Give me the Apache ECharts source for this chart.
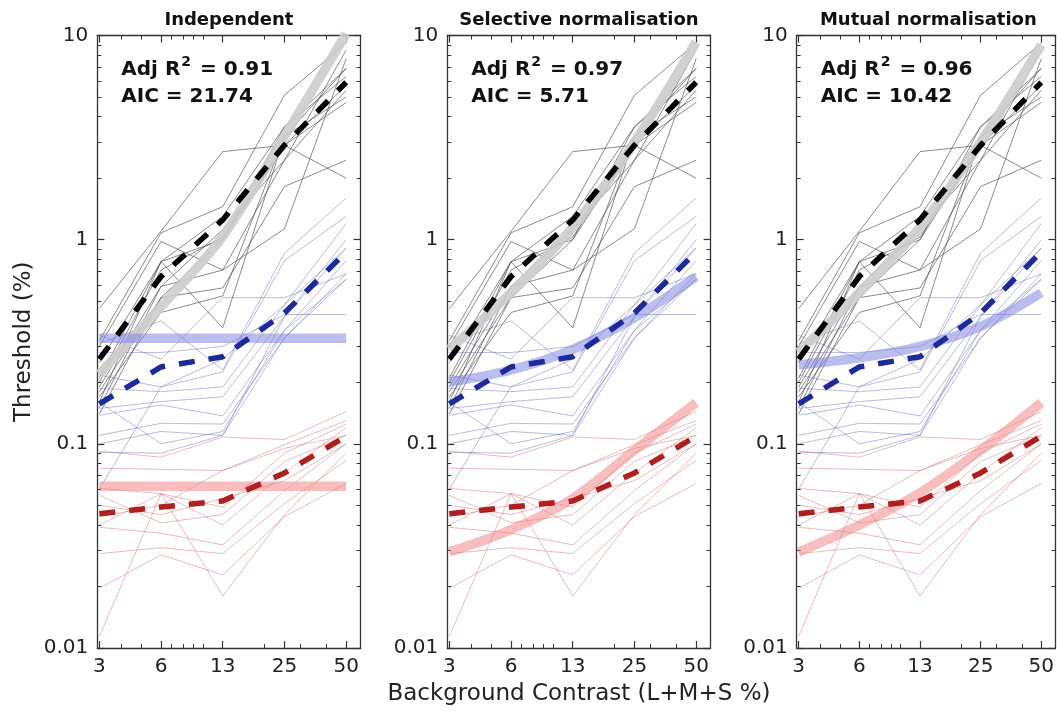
<!DOCTYPE html>
<html><head><meta charset="utf-8">
<script src="https://cdn.jsdelivr.net/npm/echarts@6/dist/echarts.min.js"></script>
<style>html,body{margin:0;padding:0;background:#fff}#c{width:1057px;height:712px}</style>
</head><body><div id="c"></div>
<script>
// ---------- data ----------
const contrasts = [3.125, 6.25, 12.5, 25, 50];
const xTickLabels = ['3', '6', '13', '25', '50'];
const xMinorTicks = [4, 5, 7, 8, 9, 10, 20, 30, 40];
const yMajorTicks = [0.01, 0.1, 1, 10];
const yMinorTicks = [0.02,0.03,0.04,0.05,0.06,0.07,0.08,0.09,0.2,0.3,0.4,0.5,0.6,0.7,0.8,0.9,2,3,4,5,6,7,8,9];
const panelTitles = ['Independent', 'Selective normalisation', 'Mutual normalisation'];
const adjR2Values = ['0.91', '0.97', '0.96'];
const aicValues = ['21.74', '5.71', '10.42'];

const achromaticSubjects = [
  [0.46, 1.10, 2.7, 2.9, 2.0],
  [0.32, 1.08, 1.45, 5.1, 9.2],
  [0.30, 0.98, 0.71, 1.13, 7.7],
  [0.25, 0.78, 0.37, 3.2, 6.9],
  [0.21, 0.78, 1.30, 3.57, 6.3],
  [0.20, 0.71, 1.03, 2.9, 5.7],
  [0.19, 0.59, 1.12, 2.45, 5.4],
  [0.18, 0.52, 0.58, 1.82, 2.45],
  [0.17, 0.44, 0.53, 3.2, 5.0],
  [0.16, 0.78, 1.0, 2.9, 4.7],
  [0.15, 0.59, 0.71, 2.45, 8.5],
  [0.14, 0.52, 1.0, 3.57, 6.9]
];
const blueSubjects = [
  [0.34, 0.26, 0.52, 0.52, 0.68],
  [0.31, 0.40, 0.23, 0.86, 1.6],
  [0.28, 0.28, 0.30, 0.43, 0.43],
  [0.217, 0.19, 0.225, 0.79, 1.3],
  [0.187, 0.18, 0.19, 0.48, 0.91],
  [0.149, 0.161, 0.17, 0.42, 1.0],
  [0.138, 0.155, 0.137, 0.36, 0.64],
  [0.11, 0.126, 0.125, 0.33, 0.68],
  [0.10, 0.115, 0.11, 0.42, 0.91],
  [0.091, 0.09, 0.11, 0.33, 0.64],
  [0.06, 0.19, 0.26, 0.48, 1.2],
  [0.16, 0.10, 0.115, 0.36, 0.79]
];
const redSubjects = [
  [0.092, 0.086, 0.108, 0.105, 0.144],
  [0.076, 0.075, 0.074, 0.099, 0.13],
  [0.0605, 0.057, 0.049, 0.09, 0.125],
  [0.056, 0.041, 0.045, 0.082, 0.11],
  [0.040, 0.057, 0.040, 0.072, 0.12],
  [0.039, 0.0365, 0.032, 0.059, 0.10],
  [0.029, 0.031, 0.029, 0.051, 0.083],
  [0.0196, 0.0286, 0.0228, 0.044, 0.064],
  [0.0114, 0.057, 0.018, 0.045, 0.09],
  [0.044, 0.05, 0.074, 0.095, 0.11],
  [0.05, 0.045, 0.054, 0.066, 0.10]
];
const achromaticMean = [0.26, 0.66, 1.25, 2.9, 5.9];
const blueMean = [0.157, 0.238, 0.267, 0.437, 0.87];
const redMean = [0.0454, 0.049, 0.0525, 0.072, 0.109];

const achromaticFitIndependent = [0.22, 0.47, 1.04, 3.2, 10.2];
const blueFitIndependent = [0.329, 0.329, 0.329, 0.329, 0.329];
const redFitIndependent = [0.062, 0.062, 0.062, 0.062, 0.062];
const achromaticFitSelective = [0.29, 0.55, 1.15, 3.0, 9.3];
const blueFitSelective = [0.201, 0.23, 0.29, 0.415, 0.66];
const redFitSelective = [0.0295, 0.038, 0.054, 0.093, 0.159];
const achromaticFitMutual = [0.28, 0.55, 1.15, 3.0, 9.0];
const blueFitMutual = [0.244, 0.264, 0.30, 0.376, 0.55];
const redFitMutual = [0.0295, 0.040, 0.0576, 0.093, 0.159];

// ---------- layout ----------
const FONT = 'DejaVu Sans';
const panelLeft = [97.3, 447.3, 796.7];
const panelWidth = 263.3;
const gridTop = 35.5, gridHeight = 612.5;
const xMin = 3.055, xMax = 58.8;
const fitsByPanel = [
  [achromaticFitIndependent, blueFitIndependent, redFitIndependent],
  [achromaticFitSelective, blueFitSelective, redFitSelective],
  [achromaticFitMutual, blueFitMutual, redFitMutual]
];

function nearestLabel(v) {
  let bi = 0, bd = Infinity;
  contrasts.forEach((c, i) => { const d = Math.abs(Math.log(c) - Math.log(v)); if (d < bd) { bd = d; bi = i; } });
  return xTickLabels[bi];
}
function yLabel(v) {
  let best = yMajorTicks[0], bd = Infinity;
  yMajorTicks.forEach(t => { const d = Math.abs(Math.log(t) - Math.log(v)); if (d < bd) { bd = d; best = t; } });
  return String(best);
}
const pts = arr => contrasts.map((c, i) => [c, arr[i]]);

const grids = [], xAxes = [], yAxes = [], series = [], graphics = [];
const axisColor = '#333';

panelLeft.forEach((left, p) => {
  grids.push({ left: left, top: gridTop, width: panelWidth, height: gridHeight, containLabel: false });
  const xBase = { gridIndex: p, type: 'log', logBase: 10, min: xMin, max: xMax, splitLine: { show: false }, minorTick: { show: false } };
  xAxes.push(Object.assign({}, xBase, {
    position: 'bottom',
    axisLine: { show: true, lineStyle: { color: axisColor, width: 1.3 } },
    axisTick: { show: true, inside: true, length: 7, customValues: contrasts, lineStyle: { color: axisColor, width: 1.2 } },
    axisLabel: { show: true, customValues: contrasts, formatter: v => nearestLabel(v), margin: 9, fontFamily: FONT, fontSize: 20, color: '#222' },
    name: p === 1 ? 'Background Contrast (L+M+S %)' : '',
    nameLocation: 'middle', nameGap: 35,
    nameTextStyle: { fontFamily: FONT, fontSize: 23, color: '#222' }
  }));
  xAxes.push(Object.assign({}, xBase, {
    position: 'bottom',
    axisLine: { show: false },
    axisTick: { show: true, inside: true, length: 4, customValues: xMinorTicks, lineStyle: { color: axisColor, width: 1 } },
    axisLabel: { show: false }
  }));
  xAxes.push(Object.assign({}, xBase, {
    position: 'top',
    axisLine: { show: true, lineStyle: { color: axisColor, width: 1.3 } },
    axisTick: { show: true, inside: true, length: 7, customValues: contrasts, lineStyle: { color: axisColor, width: 1.2 } },
    axisLabel: { show: false }
  }));
  xAxes.push(Object.assign({}, xBase, {
    position: 'top',
    axisLine: { show: false },
    axisTick: { show: true, inside: true, length: 4, customValues: xMinorTicks, lineStyle: { color: axisColor, width: 1 } },
    axisLabel: { show: false }
  }));

  const yBase = { gridIndex: p, type: 'log', logBase: 10, min: 0.01, max: 10, splitLine: { show: false }, minorTick: { show: false } };
  yAxes.push(Object.assign({}, yBase, {
    position: 'left',
    axisLine: { show: true, lineStyle: { color: axisColor, width: 1.3 } },
    axisTick: { show: true, inside: true, length: 7, customValues: yMajorTicks, lineStyle: { color: axisColor, width: 1.2 } },
    axisLabel: { show: true, customValues: yMajorTicks, formatter: v => yLabel(v), margin: 9, fontFamily: FONT, fontSize: 20, color: '#222' },
    name: p === 0 ? 'Threshold (%)' : '',
    nameLocation: 'middle', nameGap: 62,
    nameTextStyle: { fontFamily: FONT, fontSize: 23, color: '#222' }
  }));
  yAxes.push(Object.assign({}, yBase, {
    position: 'left',
    axisLine: { show: false },
    axisTick: { show: true, inside: true, length: 4, customValues: yMinorTicks, lineStyle: { color: axisColor, width: 1 } },
    axisLabel: { show: false }
  }));
  yAxes.push(Object.assign({}, yBase, {
    position: 'right',
    axisLine: { show: true, lineStyle: { color: axisColor, width: 1.3 } },
    axisTick: { show: true, inside: true, length: 7, customValues: yMajorTicks, lineStyle: { color: axisColor, width: 1.2 } },
    axisLabel: { show: false }
  }));
  yAxes.push(Object.assign({}, yBase, {
    position: 'right',
    axisLine: { show: false },
    axisTick: { show: true, inside: true, length: 4, customValues: yMinorTicks, lineStyle: { color: axisColor, width: 1 } },
    axisLabel: { show: false }
  }));

  const xi = p * 4, yi = p * 4;
  const thin = (arr, color, z) => ({
    type: 'line', xAxisIndex: xi, yAxisIndex: yi, data: pts(arr), symbol: 'none', silent: true,
    lineStyle: { color: color, width: 0.9 }, z: z, animation: false
  });
  achromaticSubjects.forEach(s => series.push(thin(s, 'rgba(75,75,75,0.72)', 2)));
  blueSubjects.forEach(s => series.push(thin(s, 'rgba(95,95,180,0.48)', 2)));
  redSubjects.forEach(s => series.push(thin(s, 'rgba(205,95,95,0.48)', 2)));

  const fits = fitsByPanel[p];
  const fitColors = ['rgba(204,204,204,0.9)', 'rgba(125,128,222,0.52)', 'rgba(242,125,125,0.5)'];
  fits.forEach((f, k) => series.push({
    type: 'line', xAxisIndex: xi, yAxisIndex: yi, data: pts(f), symbol: 'none', silent: true, smooth: 0.35,
    lineStyle: { color: fitColors[k], width: 9.5, cap: 'butt' }, z: 3, animation: false
  }));
  const means = [achromaticMean, blueMean, redMean];
  const meanColors = ['#000000', '#1c2a9c', '#b01e1e'];
  means.forEach((m, k) => series.push({
    type: 'line', xAxisIndex: xi, yAxisIndex: yi, data: pts(m), symbol: 'none', silent: true,
    lineStyle: { color: meanColors[k], width: 5.5, type: [16, 14], cap: 'butt' }, z: 4, animation: false
  }));

  const cx = left + panelWidth / 2;
  graphics.push({ type: 'text', x: cx, y: 20, style: { text: panelTitles[p], fontFamily: FONT, fontWeight: 'bold', fontSize: 18, fill: '#111', align: 'center', verticalAlign: 'middle' } });
  graphics.push({ type: 'text', x: left + 24, y: 70, style: {
    text: '{b|Adj R}{s|2}{b| = ' + adjR2Values[p] + '}', align: 'left', verticalAlign: 'middle',
    rich: {
      b: { fontFamily: FONT, fontWeight: 'bold', fontSize: 20, fill: '#111', lineHeight: 30, verticalAlign: 'middle' },
      s: { fontFamily: FONT, fontWeight: 'bold', fontSize: 14, fill: '#111', lineHeight: 14, verticalAlign: 'top', padding: [0, 2, 0, 1] }
    } } });
  graphics.push({ type: 'text', x: left + 24, y: 97, style: { text: 'AIC = ' + aicValues[p], fontFamily: FONT, fontWeight: 'bold', fontSize: 20, fill: '#111', align: 'left', verticalAlign: 'middle' } });
});

const chart = echarts.init(document.getElementById('c'), null, { renderer: 'canvas' });
chart.setOption({
  backgroundColor: '#ffffff',
  animation: false,
  grid: grids,
  xAxis: xAxes,
  yAxis: yAxes,
  series: series,
  graphic: graphics
});
</script></body></html>
